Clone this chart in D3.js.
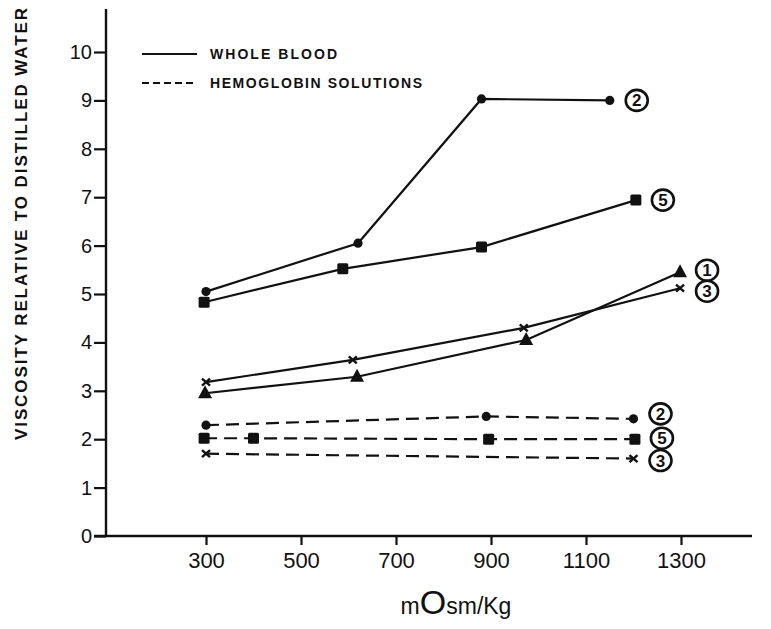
<!DOCTYPE html>
<html>
<head>
<meta charset="utf-8">
<script src="https://cdn.jsdelivr.net/npm/d3@7/dist/d3.min.js"></script>
<style>
    body { margin: 0; background: #fff; }
    svg  { display: block; }
    text { font-family: 'Liberation Sans', Arial, sans-serif; fill: #111; }
</style>
</head>
<body>
<div id="graph"></div>
<script>
// Values (x in mOsm/Kg, y in viscosity units)
var xTicks = [ 300, 500, 700, 900, 1100, 1300 ];
var yTicks = [ 0, 1, 2, 3, 4, 5, 6, 7, 8, 9, 10 ];

// Whole blood
var wb2X = [ 300, 620, 880, 1150 ];
var wb2Y = [ 5.05, 6.05, 9.03, 9.0 ];
var wb5X = [ 296, 588, 880, 1205 ];
var wb5Y = [ 4.83, 5.52, 5.97, 6.94 ];
var wb1X = [ 298, 618, 974, 1298 ];
var wb1Y = [ 2.95, 3.29, 4.05, 5.45 ];
var wb3X = [ 300, 609, 969, 1298 ];
var wb3Y = [ 3.18, 3.64, 4.30, 5.12 ];

// Hemoglobin solutions
var hb2X = [ 300, 890, 1200 ];
var hb2Y = [ 2.29, 2.47, 2.42 ];
var hb5X = [ 296, 400, 895, 1203 ];
var hb5Y = [ 2.02, 2.02, 2.0, 2.0 ];
var hb3X = [ 300, 1200 ];
var hb3Y = [ 1.7, 1.6 ];

var legendLabels = [ 'WHOLE BLOOD', 'HEMOGLOBIN SOLUTIONS' ];
var yTitle = 'VISCOSITY RELATIVE TO DISTILLED WATER';

var width  = 771;
var height = 629;

var svg = d3.select ('#graph').append ('svg')
            .attr ('width', width)
            .attr ('height', height);

var x = d3.scaleLinear ().domain ([ 300, 1300 ]).range ([ 206, 681 ]);
var y = d3.scaleLinear ().domain ([ 0, 10 ]).range ([ 536, 52 ]);

var axisX = 106;
var ink = '#111';

//
// Axes
//
var gy = svg.append ('g')
            .attr ('transform', 'translate(' + axisX + ',0)')
            .call (d3.axisLeft (y).tickValues (yTicks).tickSize (12).tickPadding (2).tickFormat (d3.format ('d')));
gy.select ('.domain').remove ();
gy.selectAll ('line').attr ('stroke', ink).attr ('stroke-width', 2.2);
gy.selectAll ('text').style ('font-size', '20px').attr ('fill', ink);

svg.append ('line')
   .attr ('x1', axisX).attr ('x2', axisX)
   .attr ('y1', 9).attr ('y2', y (0))
   .attr ('stroke', ink).attr ('stroke-width', 2.4);

var gx = svg.append ('g')
            .attr ('transform', 'translate(0,' + y (0) + ')')
            .call (d3.axisBottom (x).tickValues (xTicks).tickSize (9).tickPadding (7).tickFormat (d3.format ('d')));
gx.select ('.domain').remove ();
gx.selectAll ('line').attr ('stroke', ink).attr ('stroke-width', 2.2);
gx.selectAll ('text').style ('font-size', '22px').attr ('fill', ink);

svg.append ('line')
   .attr ('x1', 94).attr ('x2', 752)
   .attr ('y1', y (0)).attr ('y2', y (0))
   .attr ('stroke', ink).attr ('stroke-width', 2.4);

// Axis titles
svg.append ('text')
   .attr ('transform', 'translate(27,224) rotate(-90)')
   .attr ('text-anchor', 'middle')
   .attr ('textLength', 432)
   .attr ('lengthAdjust', 'spacing')
   .style ('font-size', '17px')
   .style ('font-weight', 'bold')
   .text (yTitle);

var xt = svg.append ('text')
            .attr ('x', 456).attr ('y', 614)
            .attr ('text-anchor', 'middle')
            .style ('font-size', '23px');
xt.append ('tspan').text ('m');
xt.append ('tspan').style ('font-size', '34px').text ('O');
xt.append ('tspan').text ('sm/Kg');

//
// Legend
//
var legendY = [ 54, 83 ];
var legendDash = [ null, '7,4' ];
legendLabels.forEach (function (lbl, i)
{
    svg.append ('line')
       .attr ('x1', 142).attr ('x2', 197)
       .attr ('y1', legendY[i]).attr ('y2', legendY[i])
       .attr ('stroke', ink).attr ('stroke-width', 2.2)
       .attr ('stroke-dasharray', legendDash[i]);

    svg.append ('text')
       .attr ('x', 210).attr ('y', legendY[i] + 5)
       .attr ('textLength', i == 0 ? 127 : 212)
       .attr ('lengthAdjust', 'spacing')
       .style ('font-size', '14px')
       .style ('font-weight', 'bold')
       .text (lbl);
}); 

//
// Series
//
var series = [
    { xs: wb2X, ys: wb2Y, mark: 'circle',   dash: null,   label: '2', ldy: 0 },
    { xs: wb5X, ys: wb5Y, mark: 'square',   dash: null,   label: '5', ldy: 0 },
    { xs: wb1X, ys: wb1Y, mark: 'triangle', dash: null,   label: '1', ldy: -2 },
    { xs: wb3X, ys: wb3Y, mark: 'cross',    dash: null,   label: '3', ldy: 3 },
    { xs: hb2X, ys: hb2Y, mark: 'circle',   dash: '13,7', label: '2', ldy: -5 },
    { xs: hb5X, ys: hb5Y, mark: 'square',   dash: '13,7', label: '5', ldy: -1 },
    { xs: hb3X, ys: hb3Y, mark: 'cross',    dash: '13,7', label: '3', ldy: 2 }
];

var line = d3.line ()
             .x (function (d) { return x (d[0]); })
             .y (function (d) { return y (d[1]); });

var DrawMark = function (g, mark, px, py)
{
    if (mark == 'circle')
        g.append ('circle').attr ('cx', px).attr ('cy', py).attr ('r', 4.6).attr ('fill', ink);
    else if (mark == 'square')
        g.append ('rect').attr ('x', px - 5.5).attr ('y', py - 5.5)
         .attr ('width', 11).attr ('height', 11).attr ('rx', 1.5).attr ('fill', ink);
    else if (mark == 'triangle')
        g.append ('path')
         .attr ('d', 'M' + px + ',' + (py - 8) + 'L' + (px + 7) + ',' + (py + 5) + 'L' + (px - 7) + ',' + (py + 5) + 'Z')
         .attr ('fill', ink);
    else if (mark == 'cross')
        g.append ('path')
         .attr ('d', 'M' + (px - 4) + ',' + (py - 3.5) + 'L' + (px + 4) + ',' + (py + 3.5) +
                     'M' + (px + 4) + ',' + (py - 3.5) + 'L' + (px - 4) + ',' + (py + 3.5))
         .attr ('stroke', ink).attr ('stroke-width', 2.4).attr ('fill', 'none');
}

series.forEach (function (s)
{
    var pts = s.xs.map (function (v, i) { return [ v, s.ys[i] ]; });
    var g = svg.append ('g');

    g.append ('path')
     .attr ('d', line (pts))
     .attr ('fill', 'none')
     .attr ('stroke', ink)
     .attr ('stroke-width', 2.2)
     .attr ('stroke-dasharray', s.dash);

    pts.forEach (function (p) { DrawMark (g, s.mark, x (p[0]), y (p[1])); });

    // circled curve number
    var last = pts[pts.length - 1];
    var lx = x (last[0]) + 27;
    var ly = y (last[1]) + s.ldy;
    g.append ('ellipse')
     .attr ('cx', lx).attr ('cy', ly).attr ('rx', 11).attr ('ry', 10.5)
     .attr ('fill', '#fff').attr ('stroke', ink).attr ('stroke-width', 2.6);
    g.append ('text')
     .attr ('x', lx).attr ('y', ly + 6)
     .attr ('text-anchor', 'middle')
     .style ('font-size', '17px')
     .style ('font-weight', 'bold')
     .text (s.label);
});
</script>
</body>
</html>
